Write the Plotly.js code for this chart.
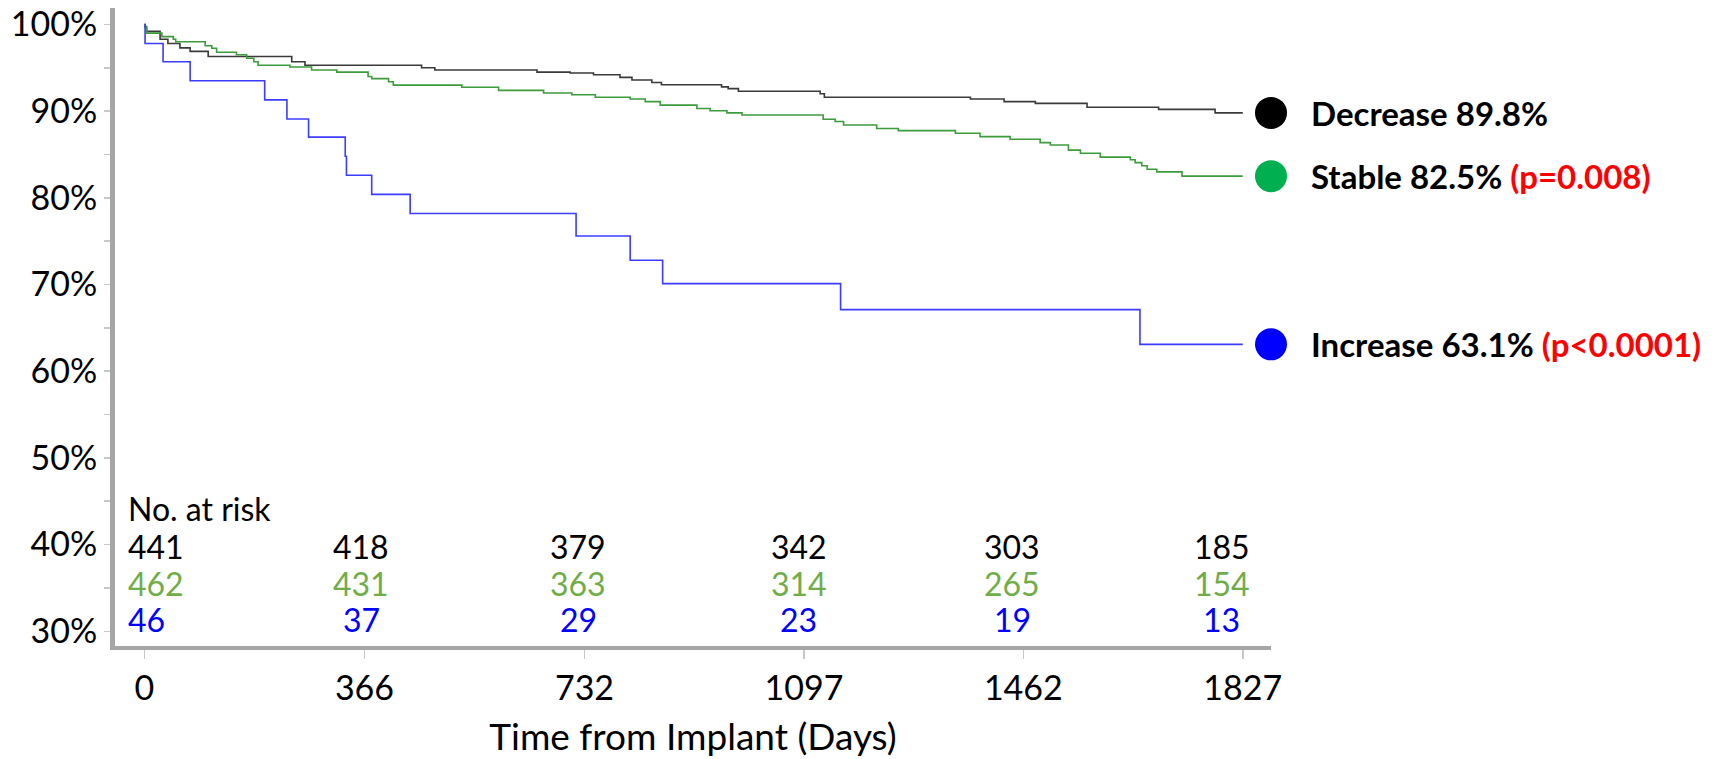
<!DOCTYPE html>
<html>
<head>
<meta charset="utf-8">
<script src="https://cdn.plot.ly/plotly-3.0.1.min.js"></script>
<style>
  html, body { margin: 0; padding: 0; background: #ffffff; }
  #chart { width: 1726px; height: 759px; }
</style>
</head>
<body>
<div id="chart"></div>
<script>
// ---- Data ----
const groupNames = ["Decrease", "Stable", "Increase"];

const decreaseDays = [0, 1, 3, 26, 39, 59, 76, 106, 245, 267, 461, 483, 653, 708, 747, 791, 811, 844, 860, 960, 971, 988, 1124, 1131, 1374, 1430, 1482, 1568, 1687, 1781, 1827];
const decreaseSurv = [100, 99.75, 99.2, 98.3, 97.8, 97.3, 96.9, 96.3, 95.7, 95.3, 95.0, 94.75, 94.5, 94.4, 94.2, 93.9, 93.6, 93.3, 93.05, 92.8, 92.6, 92.3, 92.0, 91.6, 91.4, 91.1, 90.9, 90.45, 90.2, 89.8, 89.8];

const stableDays = [0, 1, 4, 29, 48, 52, 101, 112, 120, 153, 170, 182, 189, 242, 278, 320, 372, 378, 406, 414, 528, 589, 664, 711, 750, 808, 833, 858, 919, 941, 969, 994, 1129, 1149, 1163, 1218, 1254, 1349, 1390, 1440, 1490, 1507, 1537, 1557, 1590, 1640, 1648, 1659, 1668, 1684, 1726, 1827];
const stableSurv = [100, 99.7, 99.0, 98.6, 98.3, 98.0, 97.55, 97.25, 96.8, 96.5, 96.1, 95.7, 95.3, 95.1, 94.75, 94.5, 94.0, 93.75, 93.4, 93.0, 92.75, 92.4, 92.1, 91.9, 91.6, 91.4, 91.1, 90.7, 90.3, 90.05, 89.8, 89.55, 89.07, 88.8, 88.4, 88.0, 87.75, 87.45, 87.06, 86.76, 86.37, 86.1, 85.5, 85.14, 84.7, 84.4, 84.06, 83.7, 83.3, 83.0, 82.5, 82.5];

const increaseDays = [0, 1, 31, 76, 200, 237, 273, 334, 336, 378, 442, 718, 808, 862, 1158, 1656, 1827];
const increaseSurv = [100, 97.8, 95.7, 93.5, 91.3, 89.1, 87.0, 84.8, 82.6, 80.4, 78.2, 75.6, 72.8, 70.1, 67.1, 63.1, 63.1];

const finalLabels = ["Decrease 89.8%", "Stable 82.5%", "Increase 63.1%"];
const pValues = ["", "(p=0.008)", "(p<0.0001)"];

const xTickDays = [0, 366, 732, 1097, 1462, 1827];
const xTickLabels = ["0", "366", "732", "1097", "1462", "1827"];
const yTickVals = [30, 35, 40, 45, 50, 55, 60, 65, 70, 75, 80, 85, 90, 95, 100];
const yTickLabels = ["30%", "", "40%", "", "50%", "", "60%", "", "70%", "", "80%", "", "90%", "", "100%"];

const riskTitle = "No. at risk";
const riskDecrease = [441, 418, 379, 342, 303, 185];
const riskStable = [462, 431, 363, 314, 265, 154];
const riskIncrease = [46, 37, 29, 23, 19, 13];

// ---- Styling ----
const FONT = "Lato, 'Open Sans', sans-serif";
const lineColors = ["#3a3a3a", "#3c9c3c", "#3c3cff"];
const markerColors = ["#000000", "#00B050", "#0000FF"];
const riskColors = ["#000000", "#70AD47", "#0000FF"];
const axisGray = "#A6A6A6";

const xRange = [-49, 1874];
const yRange = [28.3, 101.9];
const markerX = xRange[1];

const series = [
  [decreaseDays, decreaseSurv],
  [stableDays, stableSurv],
  [increaseDays, increaseSurv]
];

const traces = [];
series.forEach(function (s, i) {
  traces.push({
    type: "scatter",
    mode: "lines",
    x: s[0],
    y: s[1],
    name: groupNames[i],
    line: { shape: "hv", color: lineColors[i], width: 1.6 },
    hoverinfo: "skip",
    showlegend: false
  });
});
// end markers (at the right edge of the plot)
traces.push({
  type: "scatter",
  mode: "markers",
  x: series.map(function () { return markerX; }),
  y: series.map(function (s) { return s[1][s[1].length - 1]; }),
  marker: { color: markerColors, size: 32, line: { width: 0 } },
  cliponaxis: false,
  hoverinfo: "skip",
  showlegend: false
});

const annotations = [];
// end labels
series.forEach(function (s, i) {
  let txt = "<b>" + finalLabels[i];
  if (pValues[i]) txt += " <span style='color:#FF0000'>" + pValues[i] + "</span>";
  txt += "</b>";
  annotations.push({
    x: 1, y: s[1][s[1].length - 1], xref: "paper", yref: "y",
    text: txt, showarrow: false, xanchor: "left", yanchor: "middle",
    xshift: 38, font: { family: FONT, size: 33, color: "#000000" }
  });
});

// number at risk table
const rowY = [39.8, 35.55, 31.3];
const colShift = [-18, -3, -6, -5, -11, -21];
annotations.push({
  x: xTickDays[0], y: 44.2, xref: "x", yref: "y", text: riskTitle,
  showarrow: false, xanchor: "left", yanchor: "middle", xshift: colShift[0],
  font: { family: FONT, size: 32, color: "#000000" }
});
[riskDecrease, riskStable, riskIncrease].forEach(function (row, r) {
  row.forEach(function (val, c) {
    annotations.push({
      x: xTickDays[c], y: rowY[r], xref: "x", yref: "y", text: String(val),
      showarrow: false, xanchor: c === 0 ? "left" : "center", yanchor: "middle",
      xshift: colShift[c],
      font: { family: FONT, size: 32, color: riskColors[r] }
    });
  });
});

const layout = {
  width: 1726,
  height: 759,
  margin: { l: 115, r: 455, t: 8, b: 113 },
  paper_bgcolor: "#ffffff",
  plot_bgcolor: "#ffffff",
  showlegend: false,
  font: { family: FONT, color: "#000000" },
  xaxis: {
    range: xRange,
    tickvals: xTickDays,
    ticktext: xTickLabels,
    showgrid: false,
    zeroline: false,
    showline: true,
    linecolor: axisGray,
    linewidth: 4,
    ticks: "outside",
    ticklen: 9,
    tickwidth: 1.5,
    tickcolor: "#C8C8C8",
    tickfont: { family: FONT, size: 34, color: "#000000" },
    title: { text: "Time from Implant (Days)", font: { family: FONT, size: 37, color: "#000000" }, standoff: 19 }
  },
  yaxis: {
    range: yRange,
    tickvals: yTickVals,
    ticktext: yTickLabels,
    showgrid: false,
    zeroline: false,
    showline: true,
    linecolor: axisGray,
    linewidth: 5,
    ticks: "outside",
    ticklen: 6,
    tickwidth: 1.5,
    tickcolor: "#C8C8C8",
    tickfont: { family: FONT, size: 34, color: "#000000" }
  },
  annotations: annotations
};

Plotly.newPlot("chart", traces, layout, { displayModeBar: false, staticPlot: true });
</script>
</body>
</html>
